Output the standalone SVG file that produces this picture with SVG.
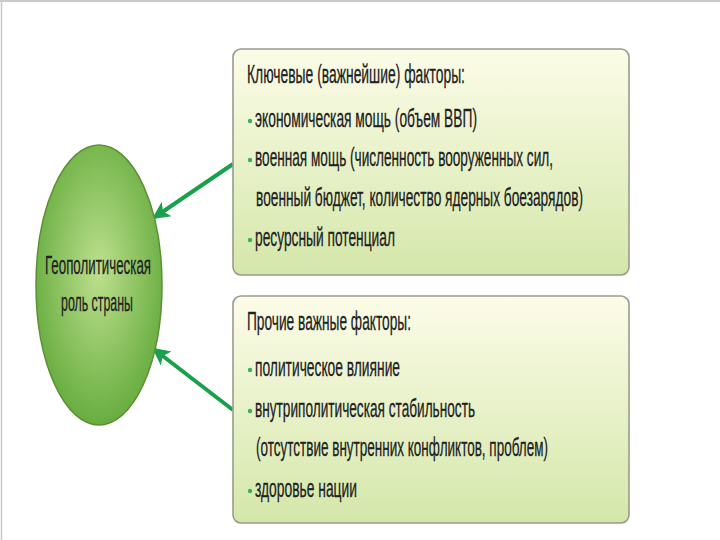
<svg xmlns="http://www.w3.org/2000/svg" width="720" height="540" viewBox="0 0 720 540">
<defs>
<linearGradient id="boxg" x1="0" y1="0" x2="0" y2="1">
<stop offset="0" stop-color="#fcfce8"/>
<stop offset="1" stop-color="#d4e7aa"/>
</linearGradient>
<radialGradient id="ellg" cx="0.5" cy="0.45" r="0.55">
<stop offset="0" stop-color="#bde08e"/>
<stop offset="1" stop-color="#68ad40"/>
</radialGradient>
<marker id="ah" viewBox="0 0 10 10" refX="8" refY="5" markerWidth="5" markerHeight="4.4" orient="auto" markerUnits="strokeWidth">
<path d="M0,0 L10,5 L0,10 L2.5,5 Z" fill="#18a04a"/>
</marker>
<style>
.box{fill:url(#boxg);stroke:#9a9a90;stroke-width:1.6}
.t{font-family:"Liberation Sans",Arial,sans-serif;font-size:25px;fill:#222;stroke:#222;stroke-width:0.3}
.b{fill:#3fae5a}
.conn{stroke:#18a04a;stroke-width:4;fill:none;marker-end:url(#ah)}
</style>
</defs>
<rect x="0" y="0" width="720" height="540" fill="#ffffff"/>
<line x1="0" y1="1" x2="720" y2="1" stroke="#b8b8b8" stroke-width="1.5"/>
<line x1="1.5" y1="0" x2="1.5" y2="540" stroke="#c8c8c8" stroke-width="1.5"/>
<g id="connectors">
<line class="conn" x1="233" y1="164" x2="155" y2="217"/>
<line class="conn" x1="233" y1="410" x2="155" y2="350"/>
</g>
<g id="node-role">
<ellipse cx="99" cy="285" rx="63" ry="140" fill="url(#ellg)" stroke="#5c8f34" stroke-width="1.5"/>
<text class="t" transform="translate(45,274) scale(0.6,1)" textLength="176.7" lengthAdjust="spacingAndGlyphs">Геополитическая</text>
<text class="t" transform="translate(61,311) scale(0.6,1)" textLength="120" lengthAdjust="spacingAndGlyphs">роль страны</text>
</g>
<g id="node-key">
<rect class="box" x="233" y="49" width="396" height="226" rx="8"/>
<text class="t" transform="translate(247,83) scale(0.6,1)" textLength="363.3" lengthAdjust="spacingAndGlyphs">Ключевые (важнейшие) факторы:</text>
<circle class="b" cx="250" cy="121" r="2.2"/>
<text class="t" transform="translate(255,127) scale(0.6,1)" textLength="370" lengthAdjust="spacingAndGlyphs">экономическая мощь (объем ВВП)</text>
<circle class="b" cx="250" cy="160" r="2.2"/>
<text class="t" transform="translate(255,166) scale(0.6,1)" textLength="496.7" lengthAdjust="spacingAndGlyphs">военная мощь (численность вооруженных сил,</text>
<text class="t" transform="translate(256,206) scale(0.6,1)" textLength="545" lengthAdjust="spacingAndGlyphs">военный бюджет, количество ядерных боезарядов)</text>
<circle class="b" cx="250" cy="240" r="2.2"/>
<text class="t" transform="translate(255,246) scale(0.6,1)" textLength="233.3" lengthAdjust="spacingAndGlyphs">ресурсный потенциал</text>
</g>
<g id="node-other">
<rect class="box" x="233" y="296" width="396" height="227" rx="8"/>
<text class="t" transform="translate(247,330) scale(0.6,1)" textLength="273.3" lengthAdjust="spacingAndGlyphs">Прочие важные факторы:</text>
<circle class="b" cx="250" cy="370" r="2.2"/>
<text class="t" transform="translate(255,376) scale(0.6,1)" textLength="241.7" lengthAdjust="spacingAndGlyphs">политическое влияние</text>
<circle class="b" cx="250" cy="411" r="2.2"/>
<text class="t" transform="translate(255,417) scale(0.6,1)" textLength="366.7" lengthAdjust="spacingAndGlyphs">внутриполитическая стабильность</text>
<text class="t" transform="translate(256,456) scale(0.6,1)" textLength="486.7" lengthAdjust="spacingAndGlyphs">(отсутствие внутренних конфликтов, проблем)</text>
<circle class="b" cx="250" cy="491" r="2.2"/>
<text class="t" transform="translate(255,497) scale(0.6,1)" textLength="170" lengthAdjust="spacingAndGlyphs">здоровье нации</text>
</g>
</svg>
